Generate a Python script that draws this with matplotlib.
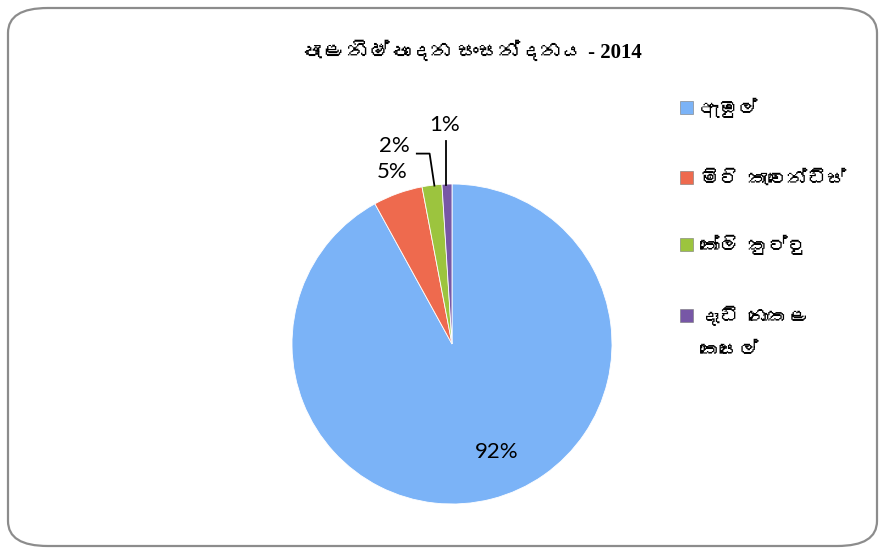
import matplotlib
matplotlib.use("Agg")
import matplotlib.pyplot as plt
from matplotlib import font_manager
from matplotlib.patches import FancyBboxPatch

# ---- data ----
categories = ["ඇඹුල්", "මිටි කැවෙන්ඩිස්", "කෝලි කුට්ටු", "දෑඩි නොකළ\nකෙසෙල්"]
values = [92, 5, 2, 1]
colors = ["#7BB3F7", "#EE6A4E", "#9CC43E", "#7757A6"]
title_text = "පැළ නිෂ්පාදන සංසන්දනය - 2014"

# find a font with Sinhala glyphs if any
sinhala_font = None
try:
    from fontTools.ttLib import TTFont
    for f in font_manager.fontManager.ttflist:
        try:
            tt = TTFont(f.fname, fontNumber=0, lazy=True)
            cmap = tt.getBestCmap()
            if cmap and 0x0DB4 in cmap:
                sinhala_font = f.name
                break
        except Exception:
            pass
except Exception:
    pass

fam_text = ([sinhala_font] if sinhala_font else []) + ["DejaVu Sans"]
fam_title = ["Liberation Serif"] + ([sinhala_font] if sinhala_font else []) + ["DejaVu Serif"]

fig = plt.figure(figsize=(8.85, 5.54), dpi=100)
W, H = 885, 554

# rounded border
border = FancyBboxPatch((8 / W, 8 / H), (W - 16) / W, (H - 16) / H,
                        boxstyle="round,pad=0,rounding_size=0.045",
                        transform=fig.transFigure, facecolor="none",
                        edgecolor="#8c8c8c", linewidth=1.6, zorder=-1)
fig.patches.append(border)

cx, cy, r = 452, 344, 160
ax = fig.add_axes([(cx - r) / W, (H - cy - r) / H, 2 * r / W, 2 * r / H])
ax.axis("off")

wedges, _ = ax.pie(values, colors=colors, startangle=90, counterclock=False,
                   radius=1, wedgeprops=dict(edgecolor="white", linewidth=0.6))
ax.set_xlim(-1, 1)
ax.set_ylim(-1, 1)

pct_kw = dict(fontsize=16, family=["Lato", "DejaVu Sans"], color="black",
              ha="center", va="center", clip_on=False)
ax.text(0.28, -0.675, f"{values[0]}%", **pct_kw)
ax.text(-0.375, 1.075, f"{values[1]}%", **pct_kw)
ax.text(-0.36, 1.235, f"{values[2]}%", **pct_kw)
ax.text(-0.045, 1.37, f"{values[3]}%", **pct_kw)
# leader lines
ax.plot([-0.22, -0.14, -0.11], [1.19, 1.19, 0.99], color="black", lw=1.3, clip_on=False)
ax.plot([-0.04, -0.04], [1.27, 0.995], color="black", lw=1.3, clip_on=False)

fig.text(471 / W, 1 - 52 / H, title_text, ha="center", va="center",
         fontsize=15, fontweight="bold", family=fam_title)

# legend
leg_y = [108, 178, 245, 316]
line_gap = 34
for lab, col, y in zip(categories, colors, leg_y):
    fig.patches.append(plt.Rectangle((680 / W, 1 - (y + 6) / H), 13 / W, 13 / H,
                                     transform=fig.transFigure, facecolor=col,
                                     edgecolor="#777777", linewidth=0.4))
    for i, part in enumerate(lab.split("\n")):
        fig.text(700 / W, 1 - (y + i * line_gap) / H, part, ha="left", va="center",
                 fontsize=14, family=fam_text)

fig.savefig("out.png", dpi=100)
